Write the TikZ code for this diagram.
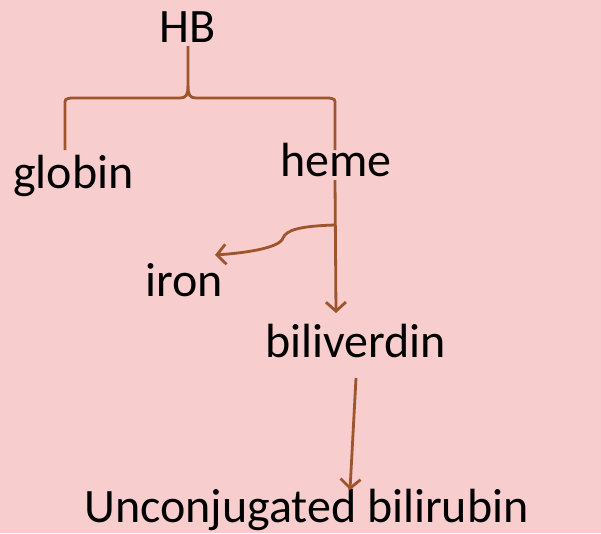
\documentclass[tikz,border=0pt]{standalone}
\usepackage{fontspec}
\setmainfont{Carlito}
\usetikzlibrary{arrows.meta}
\definecolor{bg}{RGB}{248,205,205}
\definecolor{brn}{RGB}{158,84,44}
\tikzset{
  lbl/.style={anchor=base west,inner sep=0pt,font=\fontsize{48}{54}\selectfont,text=black},
  link/.style={draw=brn,line width=2.8pt},
  arr/.style={link,-{Straight Barb[length=9pt,width=20pt,line width=2.8pt]}}
}
\begin{document}
\begin{tikzpicture}[x=1pt,y=-1pt]
\fill[bg] (0,0) rectangle (601,533);
\useasboundingbox (0,0) rectangle (601,533);
\node[lbl] (HB) at (159,42) {HB};
\node[lbl] (globin) at (13,188) {globin};
\node[lbl] (heme) at (280,176) {heme};
\node[lbl] (iron) at (145,296) {iron};
\node[lbl] (biliverdin) at (265,357) {biliverdin};
\node[lbl] (unc) at (84,522) {Unconjugated bilirubin};
\coordinate (stemtop) at (188,46);
\coordinate (gl) at (65,150);
\coordinate (hm) at (335,150);
\coordinate (hmb) at (335,180);
\coordinate (br) at (335,225);
\coordinate (bvt) at (336,313);
\coordinate (irt) at (215,255);
\coordinate (b2) at (356,378);
\coordinate (ut) at (350,490);
% brace
\draw[link] (gl) -- (65,105) .. controls (65,99) .. (71,98) -- (180,98)
  .. controls (186,98) and (188,95) .. (188,86) -- (stemtop);
\draw[link] (188,86) .. controls (188,95) and (190,98) .. (196,98) -- (329,98)
  .. controls (335,99) .. (335,105) -- (hm);
% heme -> biliverdin
\draw[arr] (hmb) -- (bvt);
% iron branch
\draw[arr] (br) .. controls (300,226) and (286,230) .. (283,238)
  .. controls (280,248) and (245,253) .. (irt);
% biliverdin -> unconjugated
\draw[arr] (b2) -- (ut);
\end{tikzpicture}
\end{document}
